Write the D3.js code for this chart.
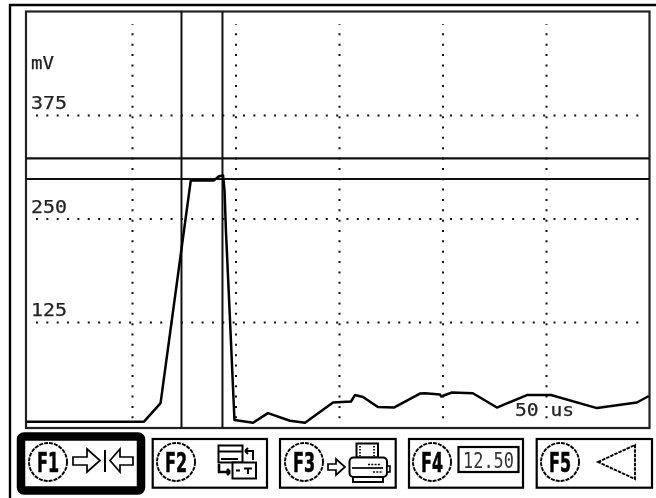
<!DOCTYPE html>
<html>
<head>
<meta charset="utf-8">
<script src="https://cdn.jsdelivr.net/npm/d3@7"></script>
<style>
    html, body { margin: 0; padding: 0; background: #fff; }
    svg { display: block; filter: blur(0.3px); }
    text { font-family: "DejaVu Sans Mono", monospace; fill: #222; stroke: #222; stroke-width: 0.25px; }
    .key-label { font-family: "DejaVu Sans", sans-serif; font-weight: bold; fill: #000; stroke: #000; }
</style>
</head>
<body>
<div id="chart"></div>
<script>
// Trace: time in us, level in mV
const traceTime = [-1, 55.8, 63.8, 78.4, 89.6, 92, 94, 94.7, 95.4, 96.9, 99.5, 108.5, 115.7, 126.3, 133.6,
    147.1, 155.8, 157.7, 161.6, 168.8, 176.5, 189.1, 191.5, 198.8, 199.3, 204.6, 214.7, 226.3, 240.8,
    252.4, 274.6, 293.9, 299.7];
const traceMv = [4.6, 4.6, 27, 296, 296, 301, 302, 284, 234, 152, 6.6, 3.4, 15, 5.8, 3.4,
    27.8, 29, 36.8, 34.4, 22.3, 21.7, 38.6, 39, 37.4, 35, 39.9, 39, 21.7, 36.8,
    36.8, 21, 27.8, 35.6];

// Cursors and grid
const cursorTime = [73.9, 93.7];
const cursorMv = [322.5, 297.7];
const mvTicks = [125, 250, 375];
const timeTicks = [50, 100, 150, 200, 250];
const unitLabel = "mV";
const timeLabel = "50 us";

// Function keys under the screen
const keyLabels = ["F1", "F2", "F3", "F4", "F5"];
const readout = "12.50";

const svg = d3.select("#chart").append("svg")
    .attr("width", 656)
    .attr("height", 498);

const x = d3.scaleLinear().domain([0, 300]).range([28.5, 649.5]);
const y = d3.scaleLinear().domain([0, 375]).range([425.5, 115]);

// Outer bezel, top and left edges only
svg.append("path")
    .attr("d", "M10,498V5H656")
    .attr("fill", "none")
    .attr("stroke", "#000")
    .attr("stroke-width", 2.4);

// Dotted grid made from the axes
const xGrid = svg.append("g")
    .attr("transform", "translate(0,418.3)")
    .call(d3.axisBottom(x).tickValues(timeTicks).tickSize(-394).tickFormat(""));
const yGrid = svg.append("g")
    .attr("transform", "translate(36,0)")
    .call(d3.axisLeft(y).tickValues(mvTicks).tickSize(-603).tickFormat(d => d));

[xGrid, yGrid].forEach(g => {
    g.select(".domain").remove();
    g.selectAll(".tick line")
        .attr("stroke", "#111")
        .attr("stroke-width", 2)
        .attr("stroke-dasharray", "2 8.35");
});

// Value labels sit just above their grid line
yGrid.selectAll(".tick text")
    .attr("x", -5)
    .attr("y", -6.5)
    .attr("dy", 0)
    .attr("text-anchor", "start")
    .attr("textLength", 36)
    .attr("lengthAdjust", "spacingAndGlyphs")
    .style("font-size", "17px")
    .style("font-family", '"DejaVu Sans Mono", monospace');

svg.append("text")
    .attr("x", 31)
    .attr("y", 69)
    .attr("textLength", 23)
    .attr("lengthAdjust", "spacingAndGlyphs")
    .style("font-size", "17px")
    .text(unitLabel);

svg.append("text")
    .attr("x", 515)
    .attr("y", 415.7)
    .attr("textLength", 59)
    .attr("lengthAdjust", "spacingAndGlyphs")
    .style("font-size", "17px")
    .text(timeLabel);

// Plot frame
svg.append("rect")
    .attr("x", 26)
    .attr("y", 11.5)
    .attr("width", 623.5)
    .attr("height", 416.5)
    .attr("fill", "none")
    .attr("stroke", "#222")
    .attr("stroke-width", 2.2);

// Cursors
svg.selectAll("line.cursor-x")
    .data(cursorTime)
    .enter().append("line")
    .attr("class", "cursor-x")
    .attr("x1", d => x(d))
    .attr("x2", d => x(d))
    .attr("y1", 11.5)
    .attr("y2", 428)
    .attr("stroke", "#111")
    .attr("stroke-width", 2);

svg.selectAll("line.cursor-y")
    .data(cursorMv)
    .enter().append("line")
    .attr("class", "cursor-y")
    .attr("x1", 26)
    .attr("x2", 649.5)
    .attr("y1", d => y(d))
    .attr("y2", d => y(d))
    .attr("stroke", "#111")
    .attr("stroke-width", 2.2);

// Trace
const line = d3.line()
    .x(d => x(d[0]))
    .y(d => y(d[1]));

svg.append("path")
    .datum(d3.zip(traceTime, traceMv))
    .attr("d", line)
    .attr("fill", "none")
    .attr("stroke", "#000")
    .attr("stroke-width", 2.5)
    .attr("stroke-linejoin", "round");

// Function key boxes
const keyBox = [
    { x: 21, y: 436.5, w: 120, h: 54, sw: 8.5, cx: 48 },
    { x: 152.7, y: 439, w: 114.3, h: 48.7, sw: 2.2, cx: 176 },
    { x: 280, y: 439, w: 115.7, h: 48.7, sw: 2.2, cx: 304 },
    { x: 409, y: 439, w: 114, h: 48.7, sw: 2.2, cx: 432 },
    { x: 536.7, y: 439, w: 115.3, h: 48.7, sw: 2.2, cx: 560 }
];

let keys = svg.selectAll("g.key")
    .data(keyLabels)
    .enter().append("g")
    .attr("class", "key");

keys.append("rect")
    .attr("x", (d, i) => keyBox[i].x)
    .attr("y", (d, i) => keyBox[i].y)
    .attr("width", (d, i) => keyBox[i].w)
    .attr("height", (d, i) => keyBox[i].h)
    .attr("rx", (d, i) => i === 0 ? 3 : 0)
    .attr("fill", "#fff")
    .attr("stroke", "#000")
    .attr("stroke-width", (d, i) => keyBox[i].sw);

keys.append("circle")
    .attr("cx", (d, i) => keyBox[i].cx)
    .attr("cy", 462)
    .attr("r", 19)
    .attr("fill", "none")
    .attr("stroke", "#000")
    .attr("stroke-width", 1.9)
    .attr("stroke-dasharray", "4 1");

keys.append("text")
    .attr("class", "key-label")
    .attr("x", (d, i) => keyBox[i].cx)
    .attr("y", 471.5)
    .attr("text-anchor", "middle")
    .attr("textLength", 22)
    .attr("lengthAdjust", "spacingAndGlyphs")
    .style("font-size", "26px")
    .style("stroke-width", "0.6px")
    .text(d => d);

// Icons
const icons = svg.append("g")
    .attr("fill", "#fff")
    .attr("stroke", "#000")
    .attr("stroke-width", 1.7);

// F1: two arrows meeting at a bar
icons.append("path").attr("d", "M73,457H87V449L100,460.5L87,472V465H73Z");
icons.append("path").attr("d", "M133,457H120V449L110,460.5L120,472V465H133Z");
icons.append("path").attr("d", "M105,450V472").attr("stroke-width", 2);

// F2: swap between two panels
icons.append("rect").attr("x", 218.5).attr("y", 445.5).attr("width", 24).attr("height", 17).attr("stroke-width", 2);
icons.append("path").attr("d", "M219,451.5H242M221,459H238").attr("stroke-width", 2.2);
icons.append("rect").attr("x", 232.5).attr("y", 462.5).attr("width", 23.5).attr("height", 16).attr("stroke-width", 2);
icons.append("path").attr("d", "M236,470.5H240M244,468.5H252M248,468.5V474").attr("stroke-width", 2);
icons.append("path").attr("d", "M245,451H253V460M245,451L248,448M245,451L248,454").attr("fill", "none").attr("stroke-width", 2);
icons.append("path").attr("d", "M219,464V472H230M230,472L227,469M230,472L227,475").attr("fill", "none").attr("stroke-width", 2.6);

// F3: arrow into printer
icons.append("path").attr("d", "M328,464H336V459L345,467L336,475V470H328Z");
icons.append("rect").attr("x", 356.5).attr("y", 443.5).attr("width", 21.5).attr("height", 14).attr("stroke-width", 2);
icons.append("path").attr("d", "M360,446V456M374,446V456").attr("stroke-dasharray", "1.5 1.5");
icons.append("rect").attr("x", 353).attr("y", 476).attr("width", 30).attr("height", 6).attr("stroke-width", 2);
icons.append("rect").attr("x", 349.5).attr("y", 457.5).attr("width", 37.5).attr("height", 19.5).attr("rx", 4).attr("stroke-width", 2);
icons.append("rect").attr("x", 387).attr("y", 466).attr("width", 3).attr("height", 6).attr("stroke-width", 1.6);
icons.append("path").attr("d", "M352,468H383");
icons.append("path").attr("d", "M368,464.5H380M373,472H383").attr("stroke-dasharray", "2 1.3");

// F4: digital readout
icons.append("rect").attr("x", 458.5).attr("y", 447).attr("width", 60).attr("height", 25).attr("stroke-width", 2.2);
svg.append("text")
    .attr("x", 463)
    .attr("y", 467.5)
    .attr("textLength", 51)
    .attr("lengthAdjust", "spacingAndGlyphs")
    .style("font-size", "21px")
    .style("fill", "#333")
    .style("stroke", "none")
    .text(readout);

// F5: back triangle
icons.append("path")
    .attr("d", "M598,462L635,445V479Z")
    .attr("stroke-width", 1.9)
    .attr("stroke-dasharray", "3.5 1");
</script>
</body>
</html>
